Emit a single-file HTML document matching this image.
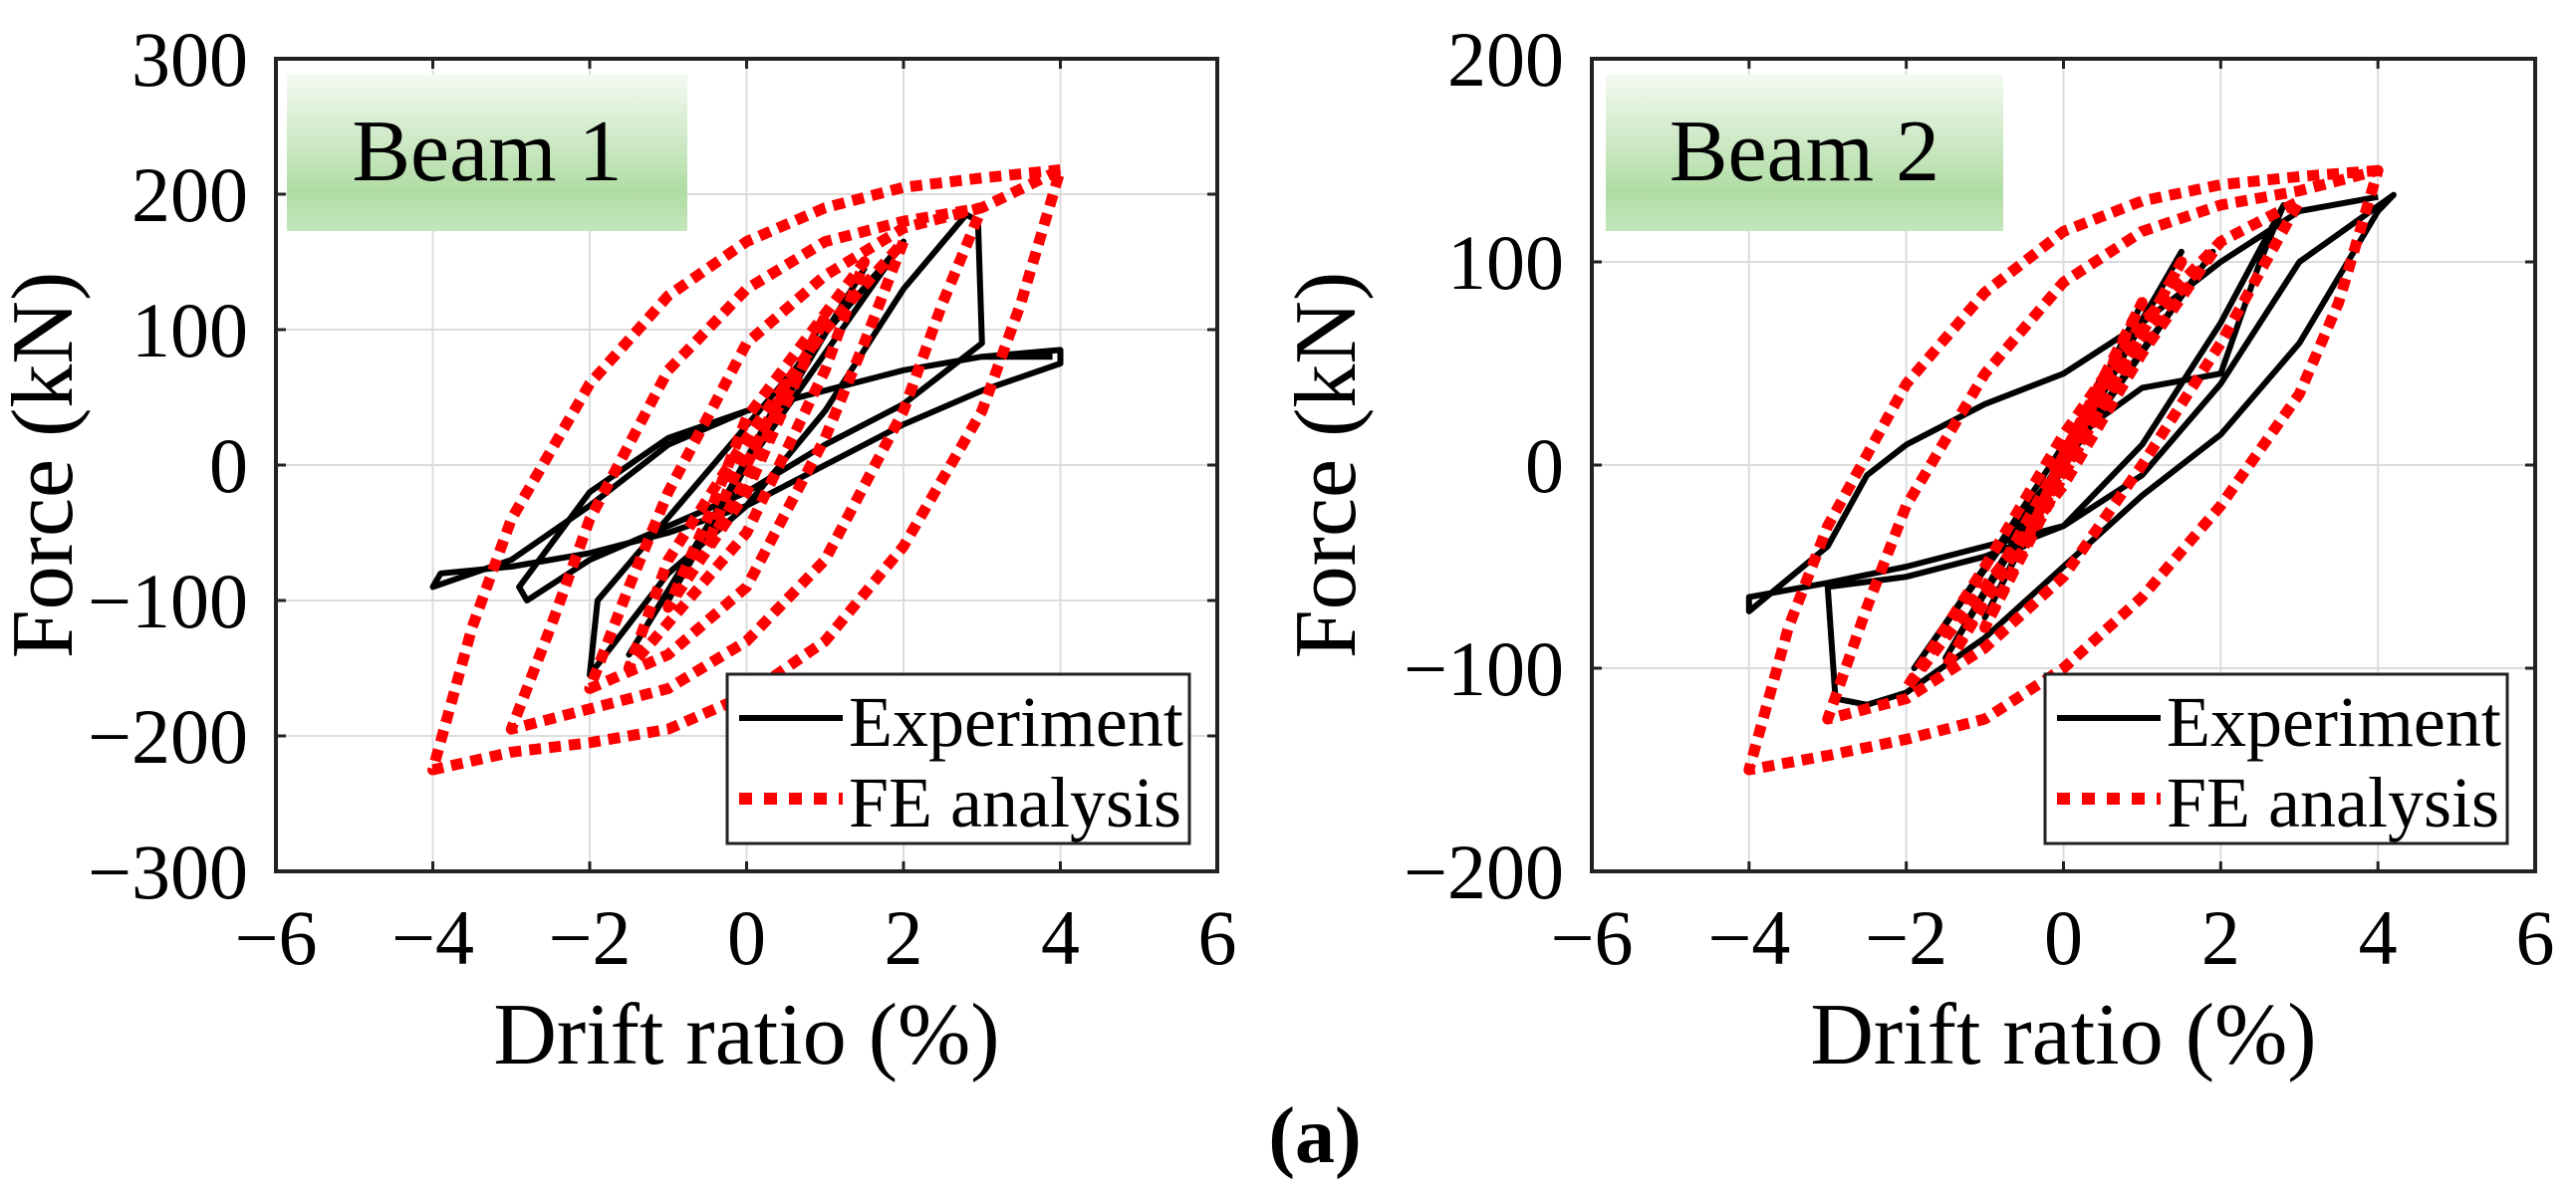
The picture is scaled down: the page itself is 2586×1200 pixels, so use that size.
<!DOCTYPE html>
<html><head><meta charset="utf-8"><style>
html,body{margin:0;padding:0;background:#fff;}
svg{display:block;font-family:"Liberation Serif",serif;}
</style></head><body>
<svg id="fig" width="2586" height="1200" viewBox="0 0 2586 1200" xmlns="http://www.w3.org/2000/svg">
<defs>
<linearGradient id="gbox" x1="0" y1="0" x2="0" y2="1">
<stop offset="0" stop-color="#f4faf2"/><stop offset="0.75" stop-color="#b0dca4"/><stop offset="1" stop-color="#c4e6bb"/>
</linearGradient>
</defs>
<g id="p1"></g>
<g id="p2"></g>
<text x="1320" y="1167" font-size="80" font-weight="bold" text-anchor="middle">(a)</text>
</svg>
<script>
// ---- Beam 1 data ----
const b1ExpDrift = [0,0.5,-0.5,0,1,-1,0,1.5,-1.5,0,2,-1.9,-2,-1,0,1,2,2.8,2.95,3,2,1,0,-1,-2,-2.8,-2.9,-2,-1,0,1,2,3,4,4,3,2,1,0,-1,-2,-3,-3.9,-4,-3,-2,-1,0,1,2,3,3.9];
const b1ExpForce = [0,60,-55,0,110,-100,0,145,-140,0,165,-100,-155,-80,-30,40,130,185,180,90,45,15,-20,-45,-70,-100,-90,-20,20,40,55,70,80,85,75,55,30,0,-30,-50,-65,-75,-80,-90,-70,-30,15,40,55,70,80,80];
const b1FeDrift = [0,0.5,0.25,0,-0.5,-0.25,0,0.5,1,0.5,0,-1,-0.5,0,1.5,1,0,-1.5,-1,0,1,2,1.5,1,0,-1,-2,-1.5,-1,0,1,2,3,2.5,2,1,0,-1,-2,-3,-2.5,-2,-1,0,1,2,3,4,3.5,3,2,1,0,-1,-2,-3,-4,-3.5,-3,-2,-1,0,1,2,3,4];
const b1FeForce = [0,60,20,-10,-60,-20,10,50,110,45,-20,-105,-40,35,150,70,-50,-150,-70,20,100,165,90,20,-90,-140,-165,-90,-20,90,140,175,190,120,40,-70,-130,-165,-180,-195,-120,-40,70,130,165,180,190,218,120,40,-60,-130,-170,-195,-205,-212,-225,-120,-40,60,125,165,190,205,212,218];
// ---- Beam 2 data ----
const b2ExpDrift = [0,0.5,-0.5,0,1,-1,0,1.5,-1.5,0,1.9,-1.9,-1,0,1,2,2.5,2.8,2,1,0,-1,-2,-3,-2.9,-2.5,-2,-1,0,1,2,3,4,4.2,3,2,1,0,-1,-2,-3,-4,-4,-3,-2.5,-2,-1,0,1,2,3,4];
const b2ExpForce = [0,45,-40,0,80,-75,0,105,-95,0,105,-100,-50,10,38,45,100,128,70,10,-30,-45,-55,-60,-115,-118,-112,-85,-50,-15,15,60,125,133,100,40,-5,-30,-40,-50,-58,-65,-72,-40,-5,10,30,45,70,100,125,132];
const b2FeDrift = [0,0.5,0,-0.5,0,1,0,-1,0,1.5,0.5,-1.5,-0.5,0.5,2,1,0,-1,-2,-1,0,1,2,3,2,1,0,-1,-2,-3,-2.5,-2,-1,0,1,2,3,4,3.5,3,2,1,0,-1,-2,-3,-4,-3.5,-3,-2,-1,0,1,2,3,4];
const b2FeForce = [0,40,-5,-40,5,80,0,-80,-5,100,30,-100,-30,40,110,55,-10,-60,-110,-50,15,70,110,130,60,0,-55,-90,-115,-125,-70,-20,45,90,115,128,135,145,80,35,-20,-65,-100,-125,-135,-143,-150,-80,-30,40,85,115,130,138,142,145];
const xTicks = [-6,-4,-2,0,2,4,6];
const b1YTicks = [-300,-200,-100,0,100,200,300];
const b2YTicks = [-200,-100,0,100,200];

const NS = "http://www.w3.org/2000/svg";
function mk(tag, attrs, parent){const e=document.createElementNS(NS,tag);for(const k in attrs)e.setAttribute(k,attrs[k]);parent.appendChild(e);return e;}

function panel(g, opt){
  const L=opt.left, R=opt.right, T=59, B=875;
  const sx=v=>L+(v+6)/12*(R-L);
  const sy=v=>T+(opt.ymax-v)/(opt.ymax-opt.ymin)*(B-T);
  xTicks.forEach(t=>{ if(t>-6&&t<6){const l=mk('line',{x1:sx(t),x2:sx(t),y1:T,y2:B,stroke:'#dcdcdc','stroke-width':2},g);
    
    }});
  opt.yTicks.forEach(t=>{ if(t>opt.ymin&&t<opt.ymax){const l=mk('line',{x1:L,x2:R,y1:sy(t),y2:sy(t),stroke:'#dcdcdc','stroke-width':2},g);
    
    }});
  const bx=mk('rect',{x:opt.boxX,y:75,width:opt.boxW,height:157,fill:'url(#gbox)'},g);
  
  
  const bt=mk('text',{x:opt.boxX+opt.boxW/2,y:181,'font-size':88,'text-anchor':'middle'},g);
  bt.textContent=opt.title;
  
  
  function series(dx,dy,attrs,name){
    const pts=dx.map((d,i)=>sx(d).toFixed(1)+','+sy(dy[i]).toFixed(1)).join(' ');
    const p=mk('polyline',Object.assign({points:pts,fill:'none','stroke-linejoin':'round'},attrs),g);
    
    
  }
  series(opt.expD,opt.expF,{stroke:'#000','stroke-width':6},'experiment-curve');
  series(opt.feD,opt.feF,{stroke:'#ff0000','stroke-width':11,'stroke-dasharray':'12 8'},'fe-analysis-curve');
  const ax=mk('rect',{x:L,y:T,width:R-L,height:B-T,fill:'none',stroke:'#222','stroke-width':4},g);
  
  
  xTicks.forEach(t=>{
    mk('line',{x1:sx(t),x2:sx(t),y1:B,y2:B-10,stroke:'#222','stroke-width':3},g);
    mk('line',{x1:sx(t),x2:sx(t),y1:T,y2:T+10,stroke:'#222','stroke-width':3},g);
    const tx=mk('text',{x:sx(t),y:968,'font-size':78,'text-anchor':'middle'},g);
    tx.textContent=(t<0?'\u2212':'')+Math.abs(t);
    
    
  });
  opt.yTicks.forEach(t=>{
    mk('line',{x1:L,x2:L+10,y1:sy(t),y2:sy(t),stroke:'#222','stroke-width':3},g);
    mk('line',{x1:R,x2:R-10,y1:sy(t),y2:sy(t),stroke:'#222','stroke-width':3},g);
    const ty=mk('text',{x:L-28,y:sy(t)+27,'font-size':78,'text-anchor':'end'},g);
    ty.textContent=(t<0?'\u2212':'')+Math.abs(t);
    
    
  });
  const xt=mk('text',{x:(L+R)/2,y:1068,'font-size':88,'text-anchor':'middle'},g);
  xt.textContent='Drift ratio (%)';
  
  
  const yx=opt.ylabX, yy=(T+B)/2;
  const yt=mk('text',{x:yx,y:yy,'font-size':88,'text-anchor':'middle',transform:`rotate(-90 ${yx} ${yy})`},g);
  yt.textContent='Force (kN)';
  
  
  const lx=opt.legX, ly=677;
  const lg=mk('g',{},g);
  
  
  mk('rect',{x:lx,y:ly,width:464,height:170,fill:'#fff',stroke:'#222','stroke-width':3},lg);
  const l1=mk('line',{x1:lx+12,x2:lx+116,y1:ly+44,y2:ly+44,stroke:'#000','stroke-width':6},lg);
  
  
  const l2=mk('line',{x1:lx+12,x2:lx+116,y1:ly+125,y2:ly+125,stroke:'#ff0000','stroke-width':12,'stroke-dasharray':'13 12'},lg);
  
  
  const t1=mk('text',{x:lx+122,y:ly+72,'font-size':72},lg);
  t1.textContent='Experiment';
  
  
  const t2=mk('text',{x:lx+122,y:ly+153,'font-size':72},lg);
  t2.textContent='FE analysis';
  
  
}

panel(document.getElementById('p1'),{left:277,right:1222,ymin:-300,ymax:300,yTicks:b1YTicks,title:'Beam 1',boxX:288,boxW:402,
  expD:b1ExpDrift,expF:b1ExpForce,feD:b1FeDrift,feF:b1FeForce,legX:730,ylabX:72});
panel(document.getElementById('p2'),{left:1598,right:2545,ymin:-200,ymax:200,yTicks:b2YTicks,title:'Beam 2',boxX:1612,boxW:399,
  expD:b2ExpDrift,expF:b2ExpForce,feD:b2FeDrift,feF:b2FeForce,legX:2053,ylabX:1360});
</script>
</body></html>
